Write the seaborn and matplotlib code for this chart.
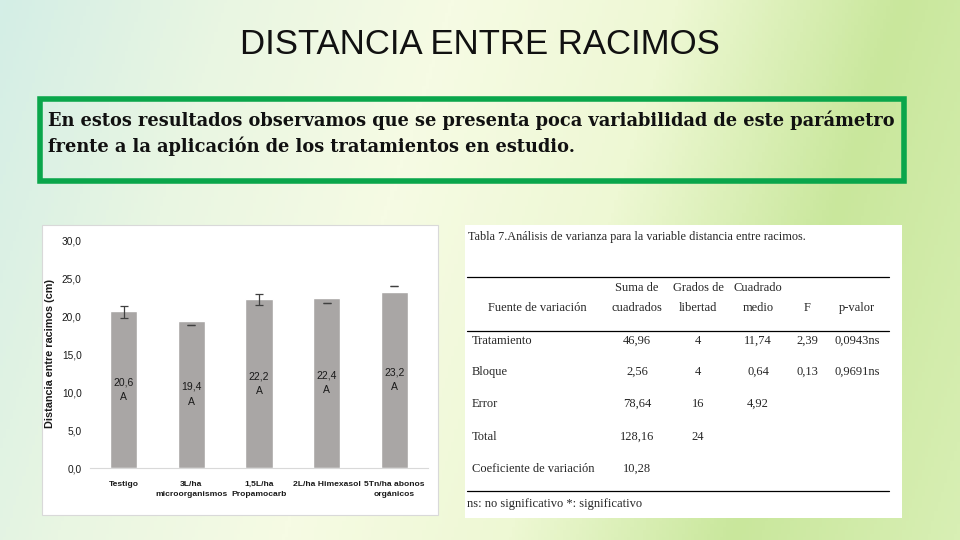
import matplotlib
matplotlib.use("Agg")
import matplotlib.pyplot as plt
from matplotlib.colors import LinearSegmentedColormap
from matplotlib.patches import Rectangle
import numpy as np
import seaborn as sns

# ── Datos ────────────────────────────────────────────────────────────────
tratamientos = ["Testigo", "3L/ha\nmicroorganismos", "1,5L/ha\nPropamocarb",
                "2L/ha Himexasol", "5Tn/ha abonos\norgánicos"]
medias = [20.6, 19.4, 22.2, 22.4, 23.2]
letras = ["A", "A", "A", "A", "A"]
err_inf = [19.8, 18.8, 21.5, 21.7, 23.9]
err_sup = [21.3, 18.8, 22.9, 21.7, 23.9]
y_ticks = [0, 5, 10, 15, 20, 25, 30]

tabla_titulo = "Tabla 7.Análisis de varianza para la variable distancia entre racimos."
encabezado_1 = ["", "Suma de", "Grados de", "Cuadrado", "", ""]
encabezado_2 = ["Fuente de variación", "cuadrados", "libertad", "medio", "F", "p-valor"]
fuentes = ["Tratamiento", "Bloque", "Error", "Total", "Coeficiente de variación"]
suma_cuadrados = ["46,96", "2,56", "78,64", "128,16", "10,28"]
grados_libertad = ["4", "4", "16", "24", ""]
cuadrado_medio = ["11,74", "0,64", "4,92", "", ""]
valor_f = ["2,39", "0,13", "", "", ""]
p_valor = ["0,0943ns", "0,9691ns", "", "", ""]
nota = "ns: no significativo *: significativo"

titulo = "DISTANCIA ENTRE RACIMOS"
texto = ("En estos resultados observamos que se presenta poca variabilidad de este parámetro\n"
         "frente a la aplicación de los tratamientos en estudio.")

W, H = 960, 540


def fx(px):
    return px / W


def fy(py):
    return 1 - py / H


sns.set_style("white")
fig = plt.figure(figsize=(9.6, 5.4), dpi=100)

# ── Fondo degradado ─────────────────────────────────────────────────────
bg = fig.add_axes([0, 0, 1, 1], zorder=-10)
cmap = LinearSegmentedColormap.from_list(
    "fondo", ["#d4eee6", "#e9f6e2", "#f6fbe4", "#eef8d4", "#c9e79c", "#d8efb4"])
gx = np.linspace(0, 1, 300)
gy = np.linspace(0, 1, 170)
GX, GY = np.meshgrid(gx, gy)
bg.imshow(GX * 0.85 + GY * 0.15, cmap=cmap, aspect="auto", extent=[0, 1, 0, 1])
bg.set_xlim(0, 1)
bg.set_ylim(0, 1)
bg.set_axis_off()

sans = ["Liberation Sans", "DejaVu Sans"]
serif = ["Liberation Serif", "DejaVu Serif"]

# ── Título y recuadro verde ─────────────────────────────────────────────
fig.text(fx(480), fy(45), titulo, ha="center", va="center", fontsize=25,
         family=sans, color="#111111")
bg.add_patch(Rectangle((fx(40), fy(181)), fx(864), fy(99) - fy(181),
                       fill=False, edgecolor="#0aa64b", linewidth=4))
fig.text(fx(48), fy(133), texto, ha="left", va="center", fontsize=12.75,
         fontweight="bold", family=["DejaVu Serif"], linespacing=1.4,
         color="#111111")

# ── Panel del gráfico ───────────────────────────────────────────────────
bg.add_patch(Rectangle((fx(42), fy(515)), fx(396), fy(225) - fy(515),
                       facecolor="white", edgecolor="#d9d9d9", linewidth=0.8))
ax = fig.add_axes([fx(90), fy(468), fx(338), fy(240) - fy(468)])
ax.patch.set_alpha(0)
sns.barplot(x=tratamientos, y=medias, color="#a9a6a5", width=0.4,
            errorbar=None, ax=ax, saturation=1)
pos = np.arange(len(medias))
centro = [(a + b) / 2 for a, b in zip(err_inf, err_sup)]
semi = [(b - a) / 2 for a, b in zip(err_inf, err_sup)]
ax.errorbar(pos, centro, yerr=semi, fmt="none", ecolor="#404040",
            elinewidth=0.9, capsize=3, capthick=0.9)
for i, (m, l) in enumerate(zip(medias, letras)):
    ax.text(i, m / 2, f"{m:.1f}".replace(".", ",") + "\n" + l, ha="center",
            va="center", fontsize=7.5, color="#1a1a1a", linespacing=1.6,
            family=sans)
ax.set_xlim(-0.5, len(medias) - 0.5)
ax.set_ylim(0, 30)
ax.set_yticks(y_ticks)
ax.set_yticklabels([f"{v:.1f}".replace(".", ",") for v in y_ticks], fontsize=7.3,
                   family=sans)
ax.set_xticks(pos)
ax.set_xticklabels(tratamientos, fontsize=6.1, fontweight="bold", linespacing=1.8,
                   family=sans)
ax.set_xticks(np.arange(-0.5, len(medias)), minor=True)
ax.tick_params(axis="x", which="major", length=0, pad=9, colors="#1a1a1a")
ax.tick_params(axis="x", which="minor", length=4, color="#bfbfbf", direction="out")
ax.tick_params(axis="y", length=0, pad=6, colors="#1a1a1a")
ax.set_ylabel("Distancia entre racimos (cm)", fontsize=7.8, fontweight="bold",
              family=sans, labelpad=5, color="#1a1a1a")
for s in ["top", "right", "left"]:
    ax.spines[s].set_visible(False)
ax.spines["bottom"].set_color("#d9d9d9")
ax.spines["bottom"].set_linewidth(0.8)

# ── Panel de la tabla ───────────────────────────────────────────────────
bg.add_patch(Rectangle((fx(465), fy(518)), fx(437), fy(225) - fy(518),
                       facecolor="white", edgecolor="none"))
fig.text(fx(468), fy(237), tabla_titulo, ha="left", va="center", fontsize=8.8,
         family=serif)
for yl in [277, 331, 491]:
    fig.add_artist(plt.Line2D([fx(467), fx(889)], [fy(yl), fy(yl)],
                              transform=fig.transFigure, color="black", lw=0.9))
col_x = [537, 637, 698, 758, 807, 857]
for j in range(6):
    fig.text(fx(col_x[j]), fy(288), encabezado_1[j], ha="center", va="center",
             fontsize=9, family=serif)
    fig.text(fx(col_x[j]), fy(308), encabezado_2[j], ha="center", va="center",
             fontsize=9, family=serif)
filas_y = [341, 372, 404, 437, 469]
columnas = [suma_cuadrados, grados_libertad, cuadrado_medio, valor_f, p_valor]
for i, fuente in enumerate(fuentes):
    fig.text(fx(472), fy(filas_y[i]), fuente, ha="left", va="center",
             fontsize=9, family=serif)
    for j, col in enumerate(columnas):
        fig.text(fx(col_x[j + 1]), fy(filas_y[i]), col[i], ha="center",
                 va="center", fontsize=9, family=serif)
fig.text(fx(467), fy(504), nota, ha="left", va="center", fontsize=9, family=serif)

fig.savefig("out.png", dpi=100)
